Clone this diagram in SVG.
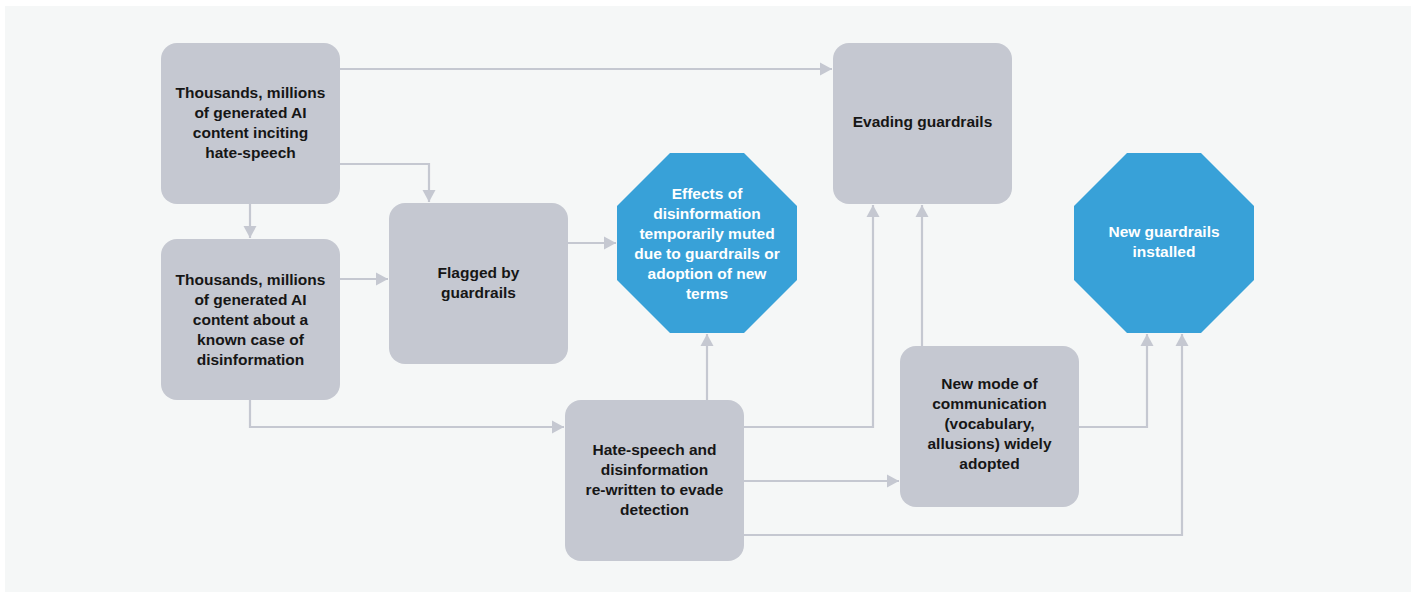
<svg xmlns="http://www.w3.org/2000/svg" width="1416" height="593" viewBox="0 0 1416 593">
<style>
.box{fill:#c5c8d1}
.oct{fill:#38a1d8}
.t{font-family:"Liberation Sans",Arial,sans-serif;font-weight:bold;font-size:15.5px;fill:#161616;text-anchor:middle}
.w{fill:#ffffff}
.c{fill:none;stroke:#c5c8d1;stroke-width:2.2;marker-end:url(#ah)}
</style>
<defs>
<marker id="ah" markerUnits="userSpaceOnUse" markerWidth="14" markerHeight="14" refX="12" refY="7" orient="auto">
<path d="M0,0.5 L12,7 L0,13.5 Z" fill="#c5c8d1"/>
</marker>
</defs>
<rect x="0" y="0" width="1416" height="593" fill="#ffffff"/>
<rect x="5" y="6" width="1406" height="586" fill="#f5f7f7"/>
<g id="connectors">
<path class="c" d="M340,69 H832"/>
<path class="c" d="M340,164 H429 V202"/>
<path class="c" d="M250,204 V238"/>
<path class="c" d="M340,279 H388"/>
<path class="c" d="M568,243 H616"/>
<path class="c" d="M250,400 V427 H564"/>
<path class="c" d="M707,400 V334"/>
<path class="c" d="M744,427 H873 V205"/>
<path class="c" d="M744,481 H899"/>
<path class="c" d="M744,535 H1182 V334"/>
<path class="c" d="M1079,427 H1147 V334"/>
<path class="c" d="M922,346 V205"/>
</g>
<g id="n1">
<rect class="box" x="161" y="43" width="179" height="161" rx="16"/>
<text class="t"><tspan x="250.5" y="98">Thousands, millions</tspan><tspan x="250.5" y="118">of generated AI</tspan><tspan x="250.5" y="138">content inciting</tspan><tspan x="250.5" y="158">hate-speech</tspan></text>
</g>
<g id="n2">
<rect class="box" x="161" y="239" width="179" height="161" rx="16"/>
<text class="t"><tspan x="250.5" y="285">Thousands, millions</tspan><tspan x="250.5" y="305">of generated AI</tspan><tspan x="250.5" y="325">content about a</tspan><tspan x="250.5" y="345">known case of</tspan><tspan x="250.5" y="365">disinformation</tspan></text>
</g>
<g id="n3">
<rect class="box" x="389" y="203" width="179" height="161" rx="16"/>
<text class="t"><tspan x="478.5" y="278">Flagged by</tspan><tspan x="478.5" y="298">guardrails</tspan></text>
</g>
<g id="n4">
<polygon class="oct" points="670,153 744,153 797,206 797,280 744,333 670,333 617,280 617,206"/>
<text class="t w"><tspan x="707" y="199">Effects of</tspan><tspan x="707" y="219">disinformation</tspan><tspan x="707" y="239">temporarily muted</tspan><tspan x="707" y="259">due to guardrails or</tspan><tspan x="707" y="279">adoption of new</tspan><tspan x="707" y="299">terms</tspan></text>
</g>
<g id="n5">
<rect class="box" x="833" y="43" width="179" height="161" rx="16"/>
<text class="t"><tspan x="922.5" y="127">Evading guardrails</tspan></text>
</g>
<g id="n6">
<polygon class="oct" points="1127,153 1201,153 1254,206 1254,280 1201,333 1127,333 1074,280 1074,206"/>
<text class="t w"><tspan x="1164" y="237">New guardrails</tspan><tspan x="1164" y="257">installed</tspan></text>
</g>
<g id="n7">
<rect class="box" x="565" y="400" width="179" height="161" rx="16"/>
<text class="t"><tspan x="654.5" y="455">Hate-speech and</tspan><tspan x="654.5" y="475">disinformation</tspan><tspan x="654.5" y="495">re-written to evade</tspan><tspan x="654.5" y="515">detection</tspan></text>
</g>
<g id="n8">
<rect class="box" x="900" y="346" width="179" height="161" rx="16"/>
<text class="t"><tspan x="989.5" y="389">New mode of</tspan><tspan x="989.5" y="409">communication</tspan><tspan x="989.5" y="429">(vocabulary,</tspan><tspan x="989.5" y="449">allusions) widely</tspan><tspan x="989.5" y="469">adopted</tspan></text>
</g>
</svg>
